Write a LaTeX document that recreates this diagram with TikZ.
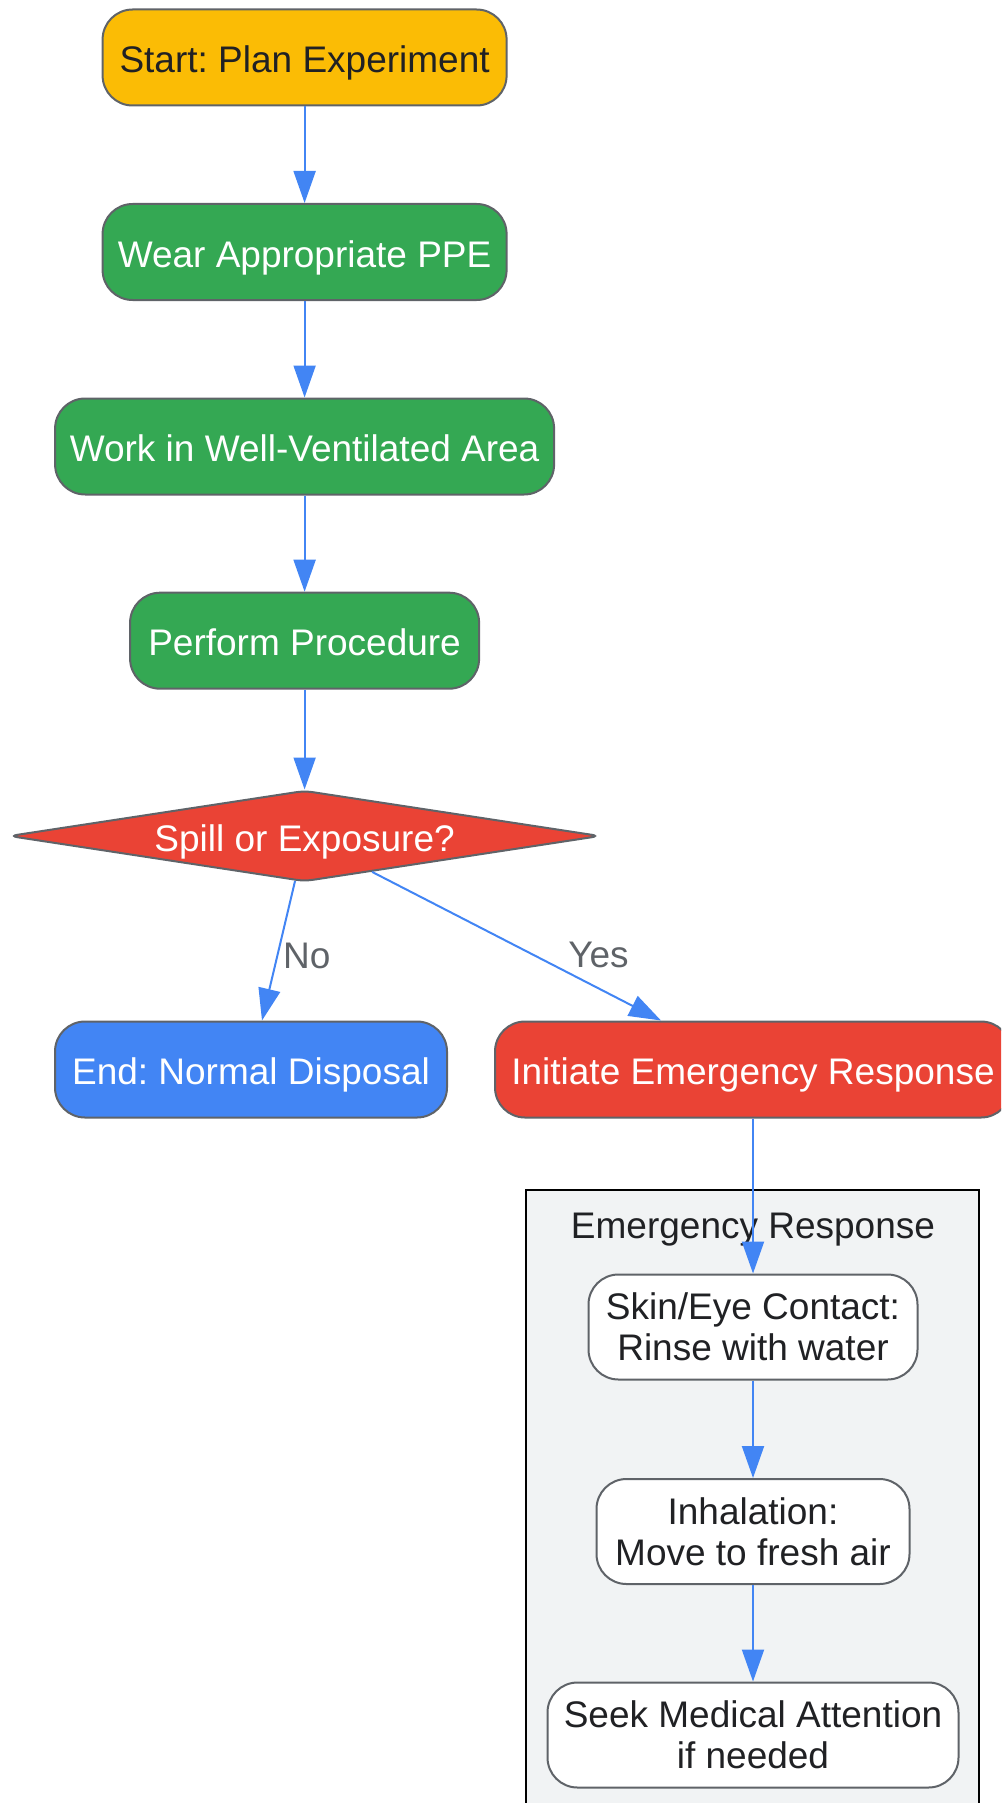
\documentclass[tikz,border=0pt]{standalone}
\usepackage{fontspec}
\setmainfont{Liberation Sans}
\usepackage{tikz}
\usepackage{xcolor}
\usetikzlibrary{shapes,arrows.meta}
\frenchspacing

\definecolor{gyellow}{HTML}{FBBC05}
\definecolor{ggreen}{HTML}{34A853}
\definecolor{gred}{HTML}{EA4335}
\definecolor{gblue}{HTML}{4285F4}
\definecolor{ggrey}{HTML}{5F6368}
\definecolor{gink}{HTML}{202124}
\definecolor{gpanel}{HTML}{F1F3F4}

\begin{document}
\begin{tikzpicture}[x=0.5pt,y=-0.5pt]
\tikzstyle{box} = [rectangle, rounded corners=15pt, draw=ggrey, line width=1pt, minimum height=48pt, inner sep=0pt, align=center, font=\fontsize{18.5}{20.6}\selectfont]
\tikzstyle{oneline} = [text height=18.5pt, text depth=3.5pt]
\tikzstyle{startbox} = [box, oneline, fill=gyellow, text=gink]
\tikzstyle{safebox} = [box, oneline, fill=ggreen, text=white]
\tikzstyle{endbox} = [box, oneline, fill=gblue, text=white]
\tikzstyle{alertbox} = [box, oneline, fill=gred, text=white]
\tikzstyle{aidbox} = [box, fill=white, text=gink, minimum height=52.5pt]
\tikzstyle{decision} = [diamond, aspect=6.5, rounded corners=4pt, draw=ggrey, line width=1pt, fill=gred, text=white, inner sep=0pt, minimum width=295.5pt, minimum height=45.5pt, font=\fontsize{18.5}{20.6}\selectfont, oneline]
\tikzstyle{flow} = [draw=gblue, line width=1pt, -{Triangle[length=16pt,width=11pt]}]
\tikzstyle{answer} = [text=ggrey, inner sep=0pt, font=\fontsize{18.5}{20.6}\selectfont]

\clip (0,0) rectangle (1001,1803);
\draw[draw=black, line width=1pt, fill=gpanel] (526,1189.5) rectangle (979,1840);
\node[text=gink, font=\fontsize{18.5}{20.6}\selectfont, oneline] (paneltitle) at (753,1223) {Emergency Response};

\node[startbox, minimum width=202pt] (plan) at (304.6,57.5) {Start: Plan Experiment};
\node[safebox, minimum width=202pt] (ppe) at (304.6,252) {Wear Appropriate PPE};
\node[safebox, minimum width=249.5pt] (vent) at (304.6,446.5) {Work in Well-Ventilated Area};
\node[safebox, minimum width=174.5pt] (proc) at (304.6,640.7) {Perform Procedure};
\node[decision] (spill) at (304.6,836) {Spill or Exposure?};
\node[endbox, minimum width=196pt] (disposal) at (251,1069.5) {End: Normal Disposal};
\node[alertbox, minimum width=258pt] (respond) at (753,1069.5) {Initiate Emergency Response};
\node[aidbox, minimum width=164.5pt] (rinse) at (753,1327) {Skin/Eye Contact:\\Rinse with water};
\node[aidbox, minimum width=156.5pt] (air) at (753,1531.5) {Inhalation:\\Move to fresh air};
\node[aidbox, minimum width=205.5pt] (medic) at (753,1735) {Seek Medical Attention\\if needed};

\draw[flow] (plan) -- (ppe);
\draw[flow] (ppe) -- (vent);
\draw[flow] (vent) -- (proc);
\draw[flow] (proc) -- (spill);
\draw[flow] (spill.-102) -- ([xshift=5.5pt]disposal.north)
	node[answer, pos=0.535, anchor=west, xshift=2.4pt] {No};
\draw[flow] (spill.-28) -- ([xshift=-46pt]respond.north)
	node[answer, pos=0.558, anchor=west, xshift=17pt] {Yes};
\draw[flow] (respond) -- (rinse);
\draw[flow] (rinse) -- (air);
\draw[flow] (air) -- (medic);
\end{tikzpicture}
\end{document}
